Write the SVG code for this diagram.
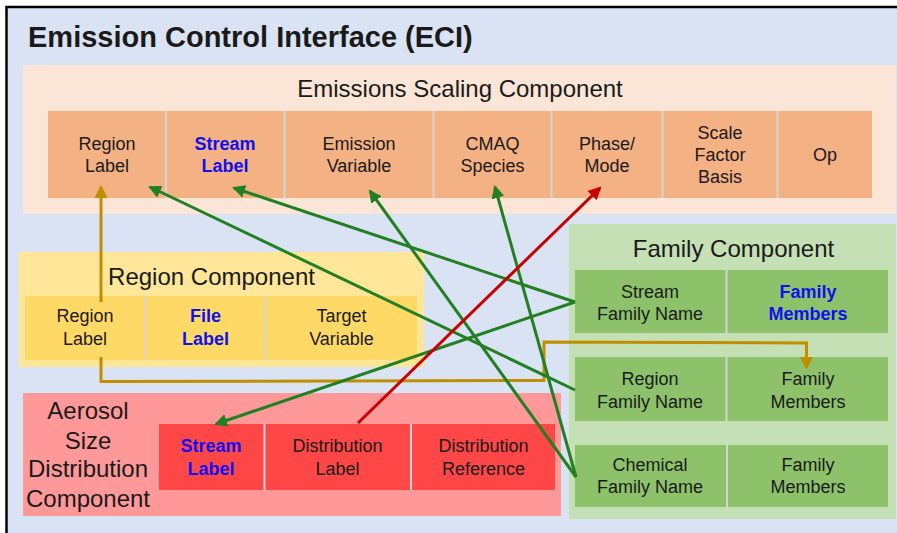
<svg xmlns="http://www.w3.org/2000/svg" width="897" height="533" viewBox="0 0 897 533">
<defs>
<style>
text{font-family:"Liberation Sans",Arial,sans-serif;fill:#1a1a1a;text-anchor:middle}
.c{font-size:18px}
.b{font-weight:bold;fill:#1010ee}
.h{font-size:24px}
.sep{stroke:#d4d4d4;stroke-width:2}
.g{stroke:#237f23;stroke-width:3;fill:none;marker-end:url(#mg)}
.r{stroke:#c80000;stroke-width:3;fill:none;marker-end:url(#mr)}
.y{stroke:#bf8f00;stroke-width:3;fill:none}
.ya{stroke:#bf8f00;stroke-width:3;fill:none;marker-end:url(#my)}
</style>
<marker id="mg" markerUnits="userSpaceOnUse" markerWidth="14" markerHeight="14" refX="11" refY="6.5" orient="auto"><path d="M0,0 L13,6.5 L0,13 z" fill="#237f23"/></marker>
<marker id="mr" markerUnits="userSpaceOnUse" markerWidth="14" markerHeight="14" refX="11" refY="6.5" orient="auto"><path d="M0,0 L13,6.5 L0,13 z" fill="#c80000"/></marker>
<marker id="my" markerUnits="userSpaceOnUse" markerWidth="14" markerHeight="14" refX="11" refY="6.5" orient="auto"><path d="M0,0 L13,6.5 L0,13 z" fill="#bf8f00"/></marker>
</defs>
<rect x="0" y="0" width="897" height="533" fill="#ffffff"/>
<rect id="eci" x="6.5" y="7" width="900" height="540" fill="#dae3f3" stroke="#000" stroke-width="2.5"/>
<text x="28" y="47" text-anchor="start" style="text-anchor:start;font-size:29px;font-weight:bold">Emission Control Interface (ECI)</text>

<g id="scaling">
<rect x="23" y="65" width="873" height="149" fill="#fbe5d6"/>
<text class="h" x="460" y="97">Emissions Scaling Component</text>
<rect x="48" y="111" width="824" height="87" fill="#f4b183"/>
<line class="sep" x1="166" y1="111" x2="166" y2="198"/>
<line class="sep" x1="284.5" y1="111" x2="284.5" y2="198"/>
<line class="sep" x1="433.5" y1="111" x2="433.5" y2="198"/>
<line class="sep" x1="551.5" y1="111" x2="551.5" y2="198"/>
<line class="sep" x1="662.5" y1="111" x2="662.5" y2="198"/>
<line class="sep" x1="777.5" y1="111" x2="777.5" y2="198"/>
<g id="es-region"><text class="c" x="107" y="150">Region</text><text class="c" x="107" y="172">Label</text></g>
<g id="es-stream"><text class="c b" x="225" y="150">Stream</text><text class="c b" x="225" y="172">Label</text></g>
<g id="es-emission"><text class="c" x="359" y="150">Emission</text><text class="c" x="359" y="172">Variable</text></g>
<g id="es-cmaq"><text class="c" x="492.5" y="150">CMAQ</text><text class="c" x="492.5" y="172">Species</text></g>
<g id="es-phase"><text class="c" x="607" y="150">Phase/</text><text class="c" x="607" y="172">Mode</text></g>
<g id="es-scale"><text class="c" x="720" y="139">Scale</text><text class="c" x="720" y="161">Factor</text><text class="c" x="720" y="183">Basis</text></g>
<g id="es-op"><text class="c" x="825" y="161">Op</text></g>
</g>

<g id="region">
<rect x="19" y="252" width="405" height="115" fill="#ffe699"/>
<text class="h" x="211.5" y="285">Region Component</text>
<rect x="25" y="296" width="392" height="64" fill="#ffd966"/>
<line class="sep" x1="145.5" y1="296" x2="145.5" y2="360"/>
<line class="sep" x1="265.5" y1="296" x2="265.5" y2="360"/>
<g id="rc-region"><text class="c" x="85" y="322">Region</text><text class="c" x="85" y="345">Label</text></g>
<g id="rc-file"><text class="c b" x="205.5" y="322">File</text><text class="c b" x="205.5" y="345">Label</text></g>
<g id="rc-target"><text class="c" x="341.5" y="322">Target</text><text class="c" x="341.5" y="345">Variable</text></g>
</g>

<g id="aerosol">
<rect x="23" y="393" width="538" height="123" fill="#ff9999"/>
<text class="h" x="88" y="419">Aerosol</text>
<text class="h" x="88" y="449">Size</text>
<text class="h" x="88" y="477">Distribution</text>
<text class="h" x="88" y="507">Component</text>
<rect x="159" y="424" width="396" height="66" fill="#ff4747"/>
<line class="sep" x1="264.5" y1="424" x2="264.5" y2="490"/>
<line class="sep" x1="411" y1="424" x2="411" y2="490"/>
<g id="ad-stream"><text class="c b" x="211" y="452">Stream</text><text class="c b" x="211" y="475">Label</text></g>
<g id="ad-label"><text class="c" x="337.5" y="452">Distribution</text><text class="c" x="337.5" y="475">Label</text></g>
<g id="ad-ref"><text class="c" x="483.5" y="452">Distribution</text><text class="c" x="483.5" y="475">Reference</text></g>
</g>

<g id="family">
<rect x="569" y="224" width="327" height="295" fill="#c5e0b4"/>
<text class="h" x="733.5" y="257">Family Component</text>
<rect x="575" y="270" width="313" height="63" fill="#8dc26a"/>
<rect x="575" y="357" width="313" height="64" fill="#8dc26a"/>
<rect x="575" y="445" width="313" height="62" fill="#8dc26a"/>
<line class="sep" x1="726.5" y1="270" x2="726.5" y2="333"/>
<line class="sep" x1="726.5" y1="357" x2="726.5" y2="421"/>
<line class="sep" x1="727" y1="445" x2="727" y2="507"/>
<g id="fc-stream"><text class="c" x="650" y="298">Stream</text><text class="c" x="650" y="320">Family Name</text></g>
<g id="fc-stream-members"><text class="c b" x="808" y="298">Family</text><text class="c b" x="808" y="320">Members</text></g>
<g id="fc-region"><text class="c" x="650" y="385">Region</text><text class="c" x="650" y="408">Family Name</text></g>
<g id="fc-region-members"><text class="c" x="808" y="385">Family</text><text class="c" x="808" y="408">Members</text></g>
<g id="fc-chem"><text class="c" x="650" y="471">Chemical</text><text class="c" x="650" y="493">Family Name</text></g>
<g id="fc-chem-members"><text class="c" x="808" y="471">Family</text><text class="c" x="808" y="493">Members</text></g>
</g>

<g id="connectors">
<path class="ya" d="M101,302 L101,187"/>
<path class="ya" d="M101,357 L101,381.5 L544,380.5 L544,342 L806.5,343 L806.5,368"/>
<path class="g" d="M575,302 L234,188"/>
<path class="g" d="M575,302 L216,424"/>
<path class="g" d="M575,390 L150,187"/>
<path class="g" d="M576,477 L370,191"/>
<path class="g" d="M576,477 L495,187"/>
<path class="r" d="M358,423 L600,188"/>
</g>
</svg>
